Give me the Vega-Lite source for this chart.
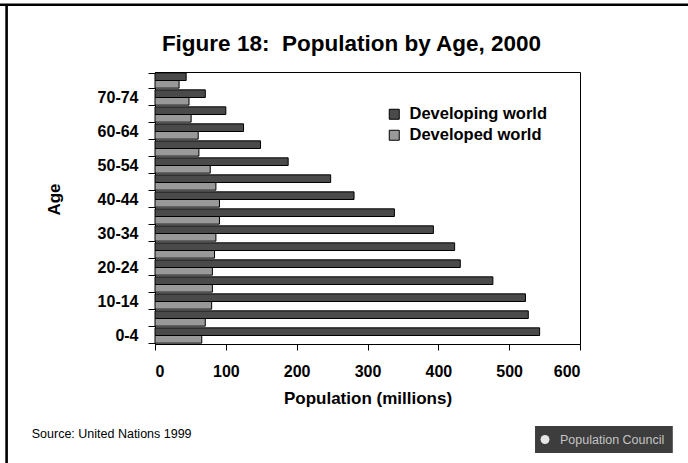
{
  "$schema": "https://vega.github.io/schema/vega-lite/v6.json",
  "width": 425,
  "height": 272,
  "autosize": {"type": "none"},
  "padding": {"left": 155, "top": 72, "right": 108, "bottom": 119},
  "background": "white",
  "config": {
    "font": "Liberation Sans",
    "view": {"stroke": "black", "strokeWidth": 1}
  },
  "title": {
    "text": "Figure 18: \u00a0Population by Age, 2000",
    "fontSize": 22.5,
    "fontWeight": "bold",
    "color": "black",
    "anchor": "middle",
    "frame": "group",
    "dx": -16,
    "offset": -53
  },
  "datasets": {
    "pop": [
      {"age": "75+", "series": "Developing world", "pop": 44},
      {"age": "75+", "series": "Developed world", "pop": 34},
      {"age": "70-74", "series": "Developing world", "pop": 71},
      {"age": "70-74", "series": "Developed world", "pop": 48},
      {"age": "65-69", "series": "Developing world", "pop": 100},
      {"age": "65-69", "series": "Developed world", "pop": 51},
      {"age": "60-64", "series": "Developing world", "pop": 125},
      {"age": "60-64", "series": "Developed world", "pop": 61},
      {"age": "55-59", "series": "Developing world", "pop": 149},
      {"age": "55-59", "series": "Developed world", "pop": 62},
      {"age": "50-54", "series": "Developing world", "pop": 188},
      {"age": "50-54", "series": "Developed world", "pop": 78},
      {"age": "45-49", "series": "Developing world", "pop": 248},
      {"age": "45-49", "series": "Developed world", "pop": 86},
      {"age": "40-44", "series": "Developing world", "pop": 281},
      {"age": "40-44", "series": "Developed world", "pop": 91},
      {"age": "35-39", "series": "Developing world", "pop": 338},
      {"age": "35-39", "series": "Developed world", "pop": 91},
      {"age": "30-34", "series": "Developing world", "pop": 393},
      {"age": "30-34", "series": "Developed world", "pop": 86},
      {"age": "25-29", "series": "Developing world", "pop": 423},
      {"age": "25-29", "series": "Developed world", "pop": 84},
      {"age": "20-24", "series": "Developing world", "pop": 431},
      {"age": "20-24", "series": "Developed world", "pop": 81},
      {"age": "15-19", "series": "Developing world", "pop": 477},
      {"age": "15-19", "series": "Developed world", "pop": 81},
      {"age": "10-14", "series": "Developing world", "pop": 523},
      {"age": "10-14", "series": "Developed world", "pop": 80},
      {"age": "5-9", "series": "Developing world", "pop": 527},
      {"age": "5-9", "series": "Developed world", "pop": 71},
      {"age": "0-4", "series": "Developing world", "pop": 543},
      {"age": "0-4", "series": "Developed world", "pop": 66}
    ],
    "notes": [
      {"label": "Source: United Nations 1999", "logo": "Population Council"}
    ]
  },
  "layer": [
    {
      "data": {"name": "pop"},
      "mark": {"type": "bar", "stroke": "black", "strokeWidth": 1},
      "encoding": {
        "y": {
          "field": "age",
          "type": "nominal",
          "sort": ["75+", "70-74", "65-69", "60-64", "55-59", "50-54", "45-49", "40-44", "35-39", "30-34", "25-29", "20-24", "15-19", "10-14", "5-9", "0-4"],
          "scale": {"paddingInner": 0.1, "paddingOuter": 0.05},
          "axis": {
            "title": "Age",
            "titleFontSize": 17,
            "titleFontWeight": "bold",
            "titleColor": "black",
            "titlePadding": 34,
            "titleY": 127,
            "labelFontSize": 16,
            "labelFontWeight": "bold",
            "labelColor": "black",
            "labelPadding": 10,
            "labelOverlap": false,
            "labelExpr": "test(regexp('^[0-9]*0-'), datum.value) ? datum.value : ''",
            "tickBand": "extent",
            "tickSize": 7,
            "tickColor": "black",
            "domainColor": "black"
          }
        },
        "yOffset": {"field": "series", "sort": ["Developing world", "Developed world"]},
        "x": {
          "field": "pop",
          "type": "quantitative",
          "scale": {"domain": [0, 600], "nice": false},
          "axis": {
            "title": "Population (millions)",
            "titleFontSize": 17,
            "titleFontWeight": "bold",
            "titleColor": "black",
            "titlePadding": 11,
            "values": [0, 100, 200, 300, 400, 500, 600],
            "grid": false,
            "labelFontSize": 16,
            "labelFontWeight": "bold",
            "labelColor": "black",
            "labelPadding": 13,
            "tickSize": 6,
            "tickColor": "black",
            "domainColor": "black"
          }
        },
        "color": {
          "field": "series",
          "type": "nominal",
          "scale": {"domain": ["Developing world", "Developed world"], "range": ["#4a4a4a", "#999999"]},
          "legend": {
            "title": null,
            "orient": "none",
            "legendX": 231,
            "legendY": 34,
            "padding": 0,
            "labelFontSize": 16.5,
            "labelFontWeight": "bold",
            "labelColor": "black",
            "symbolType": "square",
            "symbolSize": 100,
            "symbolStrokeColor": "black",
            "symbolStrokeWidth": 1,
            "rowPadding": 4,
            "labelOffset": 7
          }
        }
      }
    },
    {
      "data": {"name": "notes"},
      "mark": {"type": "text", "align": "left", "baseline": "middle", "fontSize": 12.5, "color": "black", "yOffset": 98.5},
      "encoding": {
        "x": {"datum": -174, "type": "quantitative"},
        "y": {"datum": "0-4", "type": "nominal"},
        "text": {"field": "label"}
      }
    },
    {
      "data": {"name": "notes"},
      "mark": {"type": "bar", "height": 27, "fill": "#3d3d3d", "yOffset": 104},
      "encoding": {
        "x": {"datum": 536.5, "type": "quantitative"},
        "x2": {"datum": 731},
        "y": {"datum": "0-4", "type": "nominal"}
      }
    },
    {
      "data": {"name": "notes"},
      "mark": {"type": "point", "shape": "circle", "filled": true, "fill": "#e6e6e6", "opacity": 1, "size": 80, "yOffset": 104},
      "encoding": {
        "x": {"datum": 550.6, "type": "quantitative"},
        "y": {"datum": "0-4", "type": "nominal"}
      }
    },
    {
      "data": {"name": "notes"},
      "mark": {"type": "text", "align": "left", "baseline": "middle", "fontSize": 12.5, "color": "#c4c4c4", "yOffset": 104},
      "encoding": {
        "x": {"datum": 571.8, "type": "quantitative"},
        "y": {"datum": "0-4", "type": "nominal"},
        "text": {"field": "logo"}
      }
    },
    {
      "data": {"name": "notes"},
      "mark": {"type": "rule", "color": "black", "strokeWidth": 2.4, "yOffset": -75.7},
      "encoding": {
        "x": {"datum": -220, "type": "quantitative"},
        "x2": {"datum": 760},
        "y": {"datum": "75+", "type": "nominal"}
      }
    },
    {
      "data": {"name": "notes"},
      "mark": {"type": "rule", "color": "black", "strokeWidth": 2.6, "yOffset": -76.5, "y2Offset": 127.5},
      "encoding": {
        "x": {"datum": -209.5, "type": "quantitative"},
        "y": {"datum": "75+", "type": "nominal"},
        "y2": {"datum": "0-4"}
      }
    }
  ]
}
